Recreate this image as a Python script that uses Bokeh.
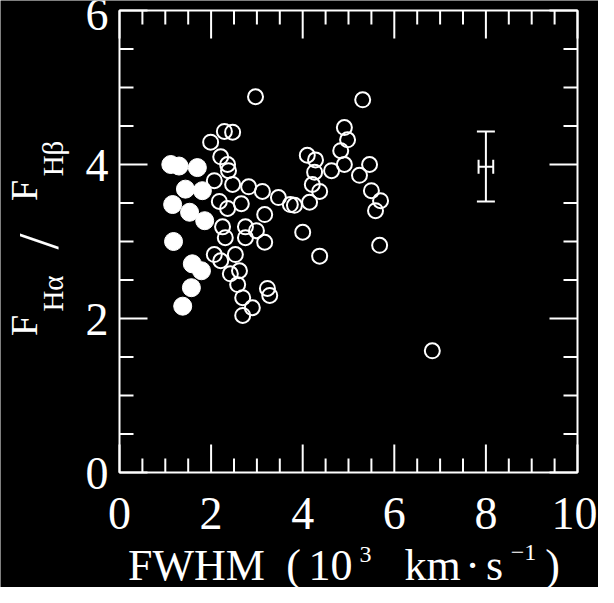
import math
from bokeh.plotting import figure
from bokeh.models import Whisker, TeeHead, ColumnDataSource
from bokeh.core.properties import value
from bokeh.embed import file_html
from bokeh.resources import INLINE

# ---- data ----
filled_fwhm = [1.12, 1.30, 1.70, 1.44, 1.81, 1.16, 1.53, 1.86, 1.18, 1.59, 1.79, 1.57, 1.38]
filled_ratio = [4.00, 3.98, 3.96, 3.68, 3.66, 3.48, 3.38, 3.27, 3.00, 2.71, 2.62, 2.40, 2.16]

open_fwhm = [2.97, 2.29, 2.47, 1.99, 2.21, 2.36, 2.38, 2.07, 2.47, 2.82, 3.12, 3.47, 3.73,
             2.18, 2.36, 2.66, 3.17, 2.25, 2.75, 2.99, 2.31, 2.75, 3.17, 2.07, 2.53, 2.21,
             2.42, 2.62, 2.58, 2.69, 2.90, 2.69, 3.23, 3.28,
             5.31, 4.91, 4.98, 4.83, 4.10, 4.28, 4.91, 4.63, 5.46, 5.24, 4.26, 4.21, 4.37,
             5.50, 5.70, 5.59, 3.82, 4.15, 4.00, 4.37, 5.68, 6.83]
open_ratio = [4.88, 4.43, 4.42, 4.29, 4.10, 4.00, 3.92, 3.79, 3.74, 3.71, 3.65, 3.57, 3.48,
              3.52, 3.43, 3.49, 3.35, 3.19, 3.19, 3.14, 3.05, 3.05, 2.99, 2.83, 2.83, 2.75,
              2.58, 2.62, 2.44, 2.27, 2.14, 2.04, 2.39, 2.30,
              4.84, 4.48, 4.32, 4.18, 4.12, 4.06, 4.00, 3.92, 4.00, 3.86, 3.90, 3.74, 3.65,
              3.66, 3.53, 3.40, 3.47, 3.51, 3.12, 2.81, 2.95, 1.58]

err_x = [8.0]
err_y = [3.97]
err_dx = [0.16]
err_y_low = [3.52]
err_y_high = [4.43]

x_lim = [0, 10]
y_lim = [0, 6]
x_major = [0, 2, 4, 6, 8, 10]
x_major_labels = ["0", "2", "4", "6", "8", "10"]
y_major = [0, 2, 4, 6]
y_major_labels = ["0", "2", "4", "6"]
x_minor = [v * 0.5 for v in range(0, 21) if v % 4 != 0]
y_minor = [v * 0.5 for v in range(0, 13) if v % 4 != 0]

FONT = value("Liberation Serif")
W = "white"

# canvas: 598 x 587 px; plot box occupies px 119..577 (x) and 10..472 (y) of the canvas
CW, CH = 598, 587
BOX_L, BOX_R, BOX_T, BOX_B = 119, 577, 10, 472
PX_X = (BOX_R - BOX_L) / (x_lim[1] - x_lim[0])
PX_Y = (BOX_B - BOX_T) / (y_lim[1] - y_lim[0])
x_rng = (x_lim[0] - BOX_L / PX_X, x_lim[1] + (CW - BOX_R) / PX_X)
y_rng = (y_lim[0] - (CH - BOX_B) / PX_Y, y_lim[1] + BOX_T / PX_Y)

p = figure(width=CW, height=CH, x_range=x_rng, y_range=y_rng,
           output_backend="svg", toolbar_location=None,
           min_border=0, min_border_left=0, min_border_right=0,
           min_border_top=0, min_border_bottom=0,
           background_fill_color="black", border_fill_color="black")
p.outline_line_color = None
p.xaxis.visible = False
p.yaxis.visible = False
p.xgrid.visible = False
p.ygrid.visible = False


def dx(px):
    return px / PX_X


def dy(px):
    return px / PX_Y


# plot box
p.quad(left=[x_lim[0]], right=[x_lim[1]], bottom=[y_lim[0]], top=[y_lim[1]],
       fill_color=None, line_color=W, line_width=2)

MAJ, MIN = 28, 14
tick_style = dict(line_color=W, line_width=2)
for ticks, ln in ((x_major, MAJ), (x_minor, MIN)):
    p.segment(x0=ticks, x1=ticks, y0=[y_lim[0]] * len(ticks),
              y1=[y_lim[0] + dy(ln)] * len(ticks), **tick_style)
    p.segment(x0=ticks, x1=ticks, y0=[y_lim[1]] * len(ticks),
              y1=[y_lim[1] - dy(ln)] * len(ticks), **tick_style)
for ticks, ln in ((y_major, MAJ), (y_minor, MIN)):
    p.segment(y0=ticks, y1=ticks, x0=[x_lim[0]] * len(ticks),
              x1=[x_lim[0] + dx(ln)] * len(ticks), **tick_style)
    p.segment(y0=ticks, y1=ticks, x0=[x_lim[1]] * len(ticks),
              x1=[x_lim[1] - dx(ln)] * len(ticks), **tick_style)

# tick labels
p.text(x=x_major, y=[y_lim[0] - dy(41)] * len(x_major), text=x_major_labels,
       x_offset=[0, 0, 0, 0, 0, -3],
       text_font=FONT, text_font_size="46px", text_color=W,
       text_align="center", text_baseline="alphabetic")
p.text(x=[x_lim[0] - dx(11)] * len(y_major), y=[v - dy(1) for v in y_major],
       y_offset=[0, 0, 0, 3],
       text=y_major_labels, text_font=FONT, text_font_size="46px", text_color=W,
       text_align="right", text_baseline="alphabetic")

# data
p.scatter(open_fwhm, open_ratio, size=15, marker="circle", fill_color=None,
          line_color=W, line_width=2)
p.scatter(filled_fwhm, filled_ratio, size=18, marker="circle", fill_color=W,
          line_color=W, line_width=1)

src = ColumnDataSource(dict(x=err_x, y=err_y,
                            xl=[a - d for a, d in zip(err_x, err_dx)],
                            xu=[a + d for a, d in zip(err_x, err_dx)],
                            yl=err_y_low, yu=err_y_high))
p.add_layout(Whisker(source=src, base="x", lower="yl", upper="yu", dimension="height",
                     line_color=W, line_width=2,
                     upper_head=TeeHead(size=18, line_color=W, line_width=2),
                     lower_head=TeeHead(size=18, line_color=W, line_width=2)))
p.add_layout(Whisker(source=src, base="y", lower="xl", upper="xu", dimension="width",
                     line_color=W, line_width=2,
                     upper_head=TeeHead(size=14, line_color=W, line_width=2),
                     lower_head=TeeHead(size=14, line_color=W, line_width=2)))


def txt(s, px, py, size, angle=0.0, align="center"):
    # px, py: canvas pixel offsets from the plot box's bottom-left corner (right / up)
    p.text(x=[x_lim[0] + dx(px)], y=[y_lim[0] + dy(py)], text=[s], angle=angle,
           text_font=FONT, text_font_size=size, text_color=W,
           text_align=align, text_baseline="alphabetic")


# y-axis title  F_Ha / F_Hb  (rotated, reads bottom to top)
R = math.pi / 2
txt("F", -96, 147, "38px", R)
txt("Hα", -67, 179, "29px", R)
txt("/", -81, 231, "58px", R)
txt("F", -96, 282, "38px", R)
txt("Hβ", -67, 314, "29px", R)

# x-axis title  FWHM (10^3 km s^-1)
BASE = -93
txt("FWHM", 77, BASE, "44px")
txt("(", 174, BASE, "44px")
txt("10", 211, BASE, "44px")
txt("3", 246, BASE + 11, "24px")
txt("km", 313, BASE, "44px")
txt("·", 353, BASE, "44px")
txt("s", 375, BASE, "44px")
txt("−1", 404, BASE + 13, "24px")
txt(")", 433, BASE, "44px")

open("out.html", "w").write(file_html(p, INLINE))
